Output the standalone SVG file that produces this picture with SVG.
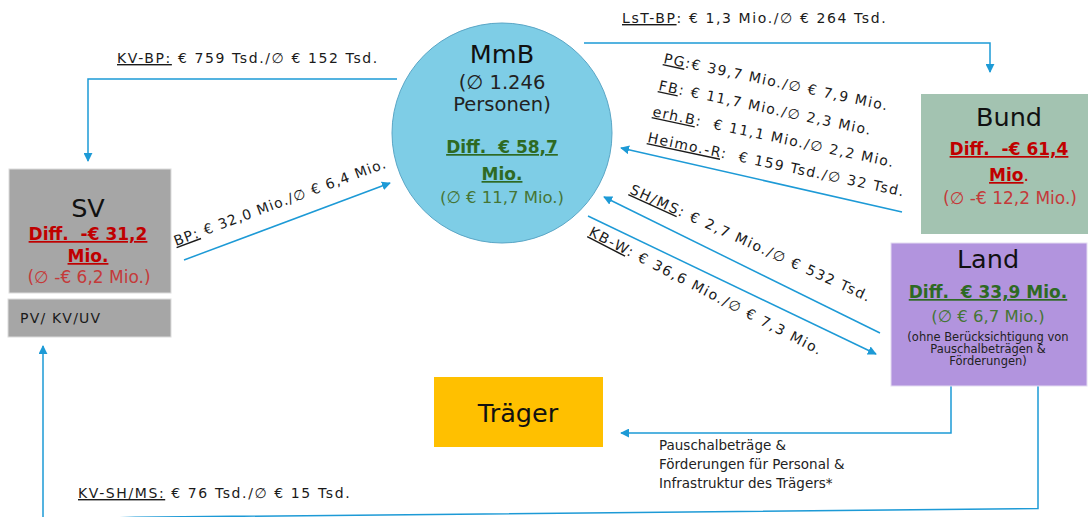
<svg xmlns="http://www.w3.org/2000/svg" width="1091" height="517" viewBox="0 0 1091 517">
  <style>
    text { font-family: "DejaVu Sans", Verdana, sans-serif; }
    .lbl { font-size: 14px; letter-spacing: 1.6px; fill: #1a1a1a; white-space: pre; }
    .tilt { letter-spacing: 1.4px; }
    .ul { text-decoration: underline; }
    .title { font-size: 25.5px; fill: #111; text-anchor: middle; }
    .sub { font-size: 19.5px; fill: #222; text-anchor: middle; }
    .diffG { font-size: 17px; font-weight: bold; fill: #2e6a23; text-anchor: middle; text-decoration: underline; white-space: pre; }
    .avgG { font-size: 16.5px; fill: #457535; text-anchor: middle; }
    .diffR { font-size: 17px; font-weight: bold; fill: #c00000; text-anchor: middle; white-space: pre; }
    .avgR { font-size: 17px; fill: #c43a3a; text-anchor: middle; }
    .small { font-size: 11.5px; fill: #222; text-anchor: middle; }
    .note { font-size: 13.5px; fill: #222; }
    .conn { fill: none; stroke: #1d9ad6; stroke-width: 1.5; }
  </style>
  <defs>
    <marker id="arrow" markerUnits="userSpaceOnUse" markerWidth="9" markerHeight="9" viewBox="0 0 10 10" refX="9" refY="5" orient="auto">
      <path d="M0,0 L10,5 L0,10 z" fill="#1d9ad6"/>
    </marker>
  </defs>

  <!-- connectors -->
  <g id="connectors">
    <polyline class="conn" points="397,79 88,79 88,161" marker-end="url(#arrow)"/>
    <polyline class="conn" points="584,43 990,43 990,72" marker-end="url(#arrow)"/>
    <line class="conn" x1="184" y1="260" x2="390" y2="183" marker-end="url(#arrow)"/>
    <line class="conn" x1="902" y1="212" x2="621" y2="148" marker-end="url(#arrow)"/>
    <line class="conn" x1="880" y1="333" x2="604" y2="197" marker-end="url(#arrow)"/>
    <line class="conn" x1="588" y1="216" x2="876" y2="354" marker-end="url(#arrow)"/>
    <polyline class="conn" points="951,386 951,433 621,433" marker-end="url(#arrow)"/>
    <polyline class="conn" points="1038,386 1038,508.5 135,517.3 43,520 43,346" marker-end="url(#arrow)"/>
  </g>

  <!-- MmB -->
  <g id="mmb">
    <circle cx="502" cy="133" r="110" fill="#7ecde6" stroke="#5aa6c6" stroke-width="1"/>
    <text class="title" x="502" y="63">MmB</text>
    <text class="sub" x="502" y="89">(∅ 1.246</text>
    <text class="sub" x="502" y="111">Personen)</text>
    <text class="diffG" x="502" y="153">Diff.  € 58,7</text>
    <text class="diffG" x="502" y="180">Mio.</text>
    <text class="avgG" x="502" y="203">(∅ € 11,7 Mio.)</text>
  </g>

  <!-- connector labels -->
  <g id="labels">
    <text class="lbl" x="117" y="63"><tspan class="ul">KV-BP:</tspan> € 759 Tsd./∅ € 152 Tsd.</text>
    <text class="lbl" x="622" y="23"><tspan class="ul">LsT-BP</tspan>: € 1,3 Mio./∅ € 264 Tsd.</text>
    <text class="lbl tilt" x="663" y="63" transform="rotate(12 663 63)"><tspan class="ul">PG</tspan>:€ 39,7 Mio./∅ € 7,9 Mio.</text>
    <text class="lbl tilt" x="658" y="90" transform="rotate(12 658 90)"><tspan class="ul">FB</tspan>: € 11,7 Mio./∅ 2,3 Mio.</text>
    <text class="lbl tilt" x="652" y="116" transform="rotate(12 652 116)"><tspan class="ul">erh.B</tspan>:  € 11,1 Mio./∅ 2,2 Mio.</text>
    <text class="lbl tilt" x="647" y="142" transform="rotate(12 647 142)"><tspan class="ul">Heimo.-R</tspan>:  € 159 Tsd./∅ 32 Tsd.</text>
    <text class="lbl" x="176" y="246" transform="rotate(-20.4 176 246)" style="letter-spacing:1.1px"><tspan class="ul">BP:</tspan> € 32,0 Mio./∅ € 6,4 Mio.</text>
    <text class="lbl" x="629" y="193" transform="rotate(24.5 629 193)"><tspan class="ul">SH/MS</tspan>: € 2,7 Mio./∅ € 532 Tsd.</text>
    <text class="lbl" x="588" y="235" transform="rotate(27.5 588 235)"><tspan class="ul">KB-W</tspan>: € 36,6 Mio./∅ € 7,3 Mio.</text>
    <text class="lbl" x="78" y="498"><tspan class="ul">KV-SH/MS:</tspan> € 76 Tsd./∅ € 15 Tsd.</text>
    <text class="note" x="659" y="450">Pauschalbeträge &amp;</text>
    <text class="note" x="659" y="469">Förderungen für Personal &amp;</text>
    <text class="note" x="659" y="488">Infrastruktur des Trägers*</text>
  </g>

  <!-- Bund -->
  <g id="bund">
    <rect x="921" y="94" width="167" height="140" fill="#a3c3b1"/>
    <text class="title" x="1009" y="126">Bund</text>
    <text class="diffR" x="1009" y="155" text-decoration="underline">Diff.  -€ 61,4</text>
    <text class="diffR" x="1009" y="181"><tspan text-decoration="underline">Mio</tspan><tspan font-weight="normal">.</tspan></text>
    <text class="avgR" x="1010" y="204">(∅ -€ 12,2 Mio.)</text>
  </g>

  <!-- SV -->
  <g id="sv">
    <rect x="9" y="169" width="162" height="124" fill="#a6a6a6" stroke="#dcdcdc" stroke-width="1"/>
    <text class="title" x="88" y="217">SV</text>
    <text class="diffR" x="88" y="240" text-decoration="underline">Diff.  -€ 31,2</text>
    <text class="diffR" x="88" y="262" text-decoration="underline">Mio.</text>
    <text class="avgR" x="89" y="283">(∅ -€ 6,2 Mio.)</text>
  </g>

  <!-- Versicherungszweige -->
  <g id="pv-kv-uv">
    <rect x="8" y="299" width="163" height="38" fill="#a6a6a6" stroke="#dcdcdc" stroke-width="1"/>
    <text class="lbl" x="20" y="323" fill="#222" style="letter-spacing:1.2px">PV/ KV/UV</text>
  </g>

  <!-- Land -->
  <g id="land">
    <rect x="891" y="243" width="196" height="143" fill="#b294de" stroke="#e4dcf2" stroke-width="1"/>
    <text class="title" x="988" y="268">Land</text>
    <text class="diffG" x="988" y="298">Diff.  € 33,9 Mio.</text>
    <text class="avgG" x="988" y="322" font-size="17">(∅ € 6,7 Mio.)</text>
    <text class="small" x="988" y="341">(ohne Berücksichtigung von</text>
    <text class="small" x="988" y="353">Pauschalbeträgen &amp;</text>
    <text class="small" x="988" y="365">Förderungen)</text>
  </g>

  <!-- Träger -->
  <g id="traeger">
    <rect x="434" y="377" width="169" height="70" fill="#ffc000"/>
    <text class="title" x="518" y="422" font-size="25">Träger</text>
  </g>
</svg>
